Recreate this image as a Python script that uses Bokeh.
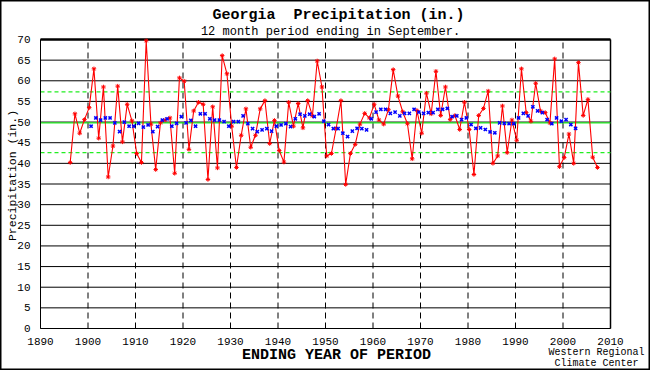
import math
from bokeh.plotting import figure
from bokeh.models import Label, FixedTicker, Range1d
from bokeh.embed import file_html
from bokeh.resources import INLINE

# ---- data ----
years = list(range(1896, 2008))
precip = [
    40.2, 52.0, 47.3, 50.6,
    53.5, 62.9, 46.1, 58.5, 36.7, 44.2, 58.7, 45.2, 54.3, 50.3,
    42.4, 40.2, 69.7, 49.5, 38.5, 49.8, 50.5, 51.0, 37.6, 60.7,
    59.9, 43.4, 52.7, 54.8, 54.3, 36.1, 53.7, 38.9, 66.1, 61.7,
    49.0, 39.0, 46.8, 53.2, 43.9, 46.8, 53.2, 55.2, 44.8, 50.4,
    43.1, 40.3, 54.8, 49.0, 54.5, 48.6, 55.2, 51.5, 64.8, 58.5,
    41.8, 42.4, 48.5, 55.2, 34.9, 42.4, 44.6, 49.5, 52.1, 51.0,
    54.3, 50.5, 49.5, 53.0, 62.7, 56.3, 52.5, 49.6, 41.1, 52.8,
    47.3, 57.0, 52.0, 62.3, 51.6, 58.5, 50.6, 51.6, 48.2, 54.8,
    48.2, 37.3, 51.6, 53.3, 57.5, 40.0, 41.8, 53.9, 42.6, 50.5,
    45.6, 62.9, 52.3, 50.2, 59.4, 52.7, 52.3, 49.8, 65.3, 39.2,
    41.4, 47.1, 40.0, 64.4, 51.6, 55.5, 41.5, 39.0,
]
avg_years = list(range(1900, 2003))
avg_precip = [
    49.0, 51.0, 50.5, 51.0, 51.0, 49.8, 47.7, 50.0, 49.0, 49.0,
    49.7, 48.8, 49.3, 47.7, 48.9, 50.5, 50.8, 49.0, 49.7, 51.3,
    49.8, 50.4, 49.0, 52.0, 52.0, 50.8, 50.5, 50.5, 50.1, 49.0,
    50.1, 50.1, 51.5, 49.6, 48.4, 47.7, 48.1, 48.4, 47.8, 49.0,
    49.3, 49.6, 48.9, 50.8, 51.9, 51.5, 51.9, 51.3, 52.0, 50.2,
    49.4, 48.4, 48.4, 47.3, 46.5, 47.8, 48.5, 48.4, 48.1, 50.8,
    52.4, 53.1, 53.1, 52.1, 52.4, 51.5, 52.1, 52.1, 53.1, 52.4,
    52.1, 52.3, 52.3, 53.1, 53.1, 53.3, 51.3, 51.5, 50.6, 51.0,
    49.4, 48.5, 48.6, 48.2, 47.6, 47.4, 49.8, 49.7, 49.6, 49.6,
    51.0, 52.1, 51.5, 53.7, 52.7, 52.3, 50.6, 49.6, 51.0, 50.2,
    50.6, 49.4, 48.5,
]
mean_value = 49.8
band_values = [57.3, 42.6]
x_ticks = list(range(1890, 2011, 10))
y_ticks = list(range(0, 71, 5))

MONO = "Liberation Mono"
W, H = 650, 370
# plot-area placement (pixels) matched to the reference
PX_L, PX_R, PX_T, PX_B = 40.0, 610.0, 39.0, 328.0
XMIN, XMAX, YMIN, YMAX = x_ticks[0], x_ticks[-1], y_ticks[0], y_ticks[-1]
kx = (XMAX - XMIN) / (PX_R - PX_L)
ky = (YMAX - YMIN) / (PX_B - PX_T)
x_range = Range1d(XMIN - PX_L * kx, XMAX + (W - PX_R) * kx)
y_range = Range1d(YMIN - (H - PX_B) * ky, YMAX + PX_T * ky)


def px(xp, yp):
    return XMIN + (xp - PX_L) * kx, YMIN + (PX_B - yp) * ky


p = figure(width=W, height=H, output_backend="svg", toolbar_location=None,
           title=None, x_range=x_range, y_range=y_range, min_border=0,
           background_fill_color="white", border_fill_color="white")
p.outline_line_color = "black"
p.outline_line_width = 2
p.xgrid.visible = False
p.ygrid.visible = False

p.xaxis.fixed_location = YMIN
p.yaxis.fixed_location = XMIN
p.xaxis.bounds = (XMIN, XMAX)
p.yaxis.bounds = (YMIN, YMAX)
for ax in (p.xaxis, p.yaxis):
    ax.axis_line_color = "black"
    ax.axis_line_width = 1
    ax.major_tick_line_color = None
    ax.minor_tick_line_color = None
    ax.major_label_text_font = MONO
    ax.major_label_text_font_size = "11px"
    ax.major_label_text_color = "black"
p.xaxis.ticker = FixedTicker(ticks=x_ticks)
p.yaxis.ticker = FixedTicker(ticks=y_ticks)
p.xaxis.major_label_standoff = 3
p.yaxis.major_label_standoff = 4

# grid of the plotting box, limited to the box
n_h = len(y_ticks)
p.segment(x0=[XMIN] * n_h, y0=y_ticks, x1=[XMAX] * n_h, y1=y_ticks,
          line_color="black", line_width=1)
decades = x_ticks[1:-1]
n_v = len(decades)
p.segment(x0=decades, y0=[YMIN] * n_v, x1=decades, y1=[YMAX] * n_v,
          line_color="black", line_width=1, line_dash="6 4")
# solid right edge and heavier top edge of the box
p.segment(x0=[XMAX], y0=[YMIN], x1=[XMAX], y1=[YMAX], line_color="black", line_width=1.5)
p.segment(x0=[XMIN], y0=[YMAX], x1=[XMAX], y1=[YMAX], line_color="black", line_width=2.5)

green = "#22ee22"
p.segment(x0=[XMIN] * 2, y0=band_values, x1=[XMAX] * 2, y1=band_values,
          line_color=green, line_width=1.2, line_dash="4 3")
p.segment(x0=[XMIN], y0=[mean_value], x1=[XMAX], y1=[mean_value],
          line_color=green, line_width=1.2)

red_x = [y + 0.25 for y in years]
blue_x = [y + 0.65 for y in avg_years]
p.line(red_x, precip, line_color="red", line_width=1.1)
p.scatter(red_x, precip, marker="asterisk", size=4.5, line_color="red", line_width=1)
p.scatter(blue_x, avg_precip, marker="x", size=4.5, line_color="blue", line_width=1.5)


def txt(xp, yp, text, size, bold=False, angle=0.0):
    x, y = px(xp, yp)
    return Label(x=x, y=y, text=text, angle=angle, text_font=MONO,
                 text_font_size=size, text_font_style="bold" if bold else "normal",
                 text_align="center", text_baseline="middle", text_color="black")


p.add_layout(txt(338, 15, "Georgia \u00a0Precipitation (in.)", "15px", bold=True))
p.add_layout(txt(330, 31, "12 month period ending in September.", "12px"))
p.add_layout(txt(12, 175, "Precipitation (in.)", "11.5px", angle=math.pi / 2))
p.add_layout(txt(336, 355, "ENDING YEAR OF PERIOD", "15px", bold=True))
p.add_layout(txt(596, 352, "Western Regional", "10px"))
p.add_layout(txt(596, 363, "Climate Center", "10px"))

open("out.html", "w").write(file_html(p, INLINE))
